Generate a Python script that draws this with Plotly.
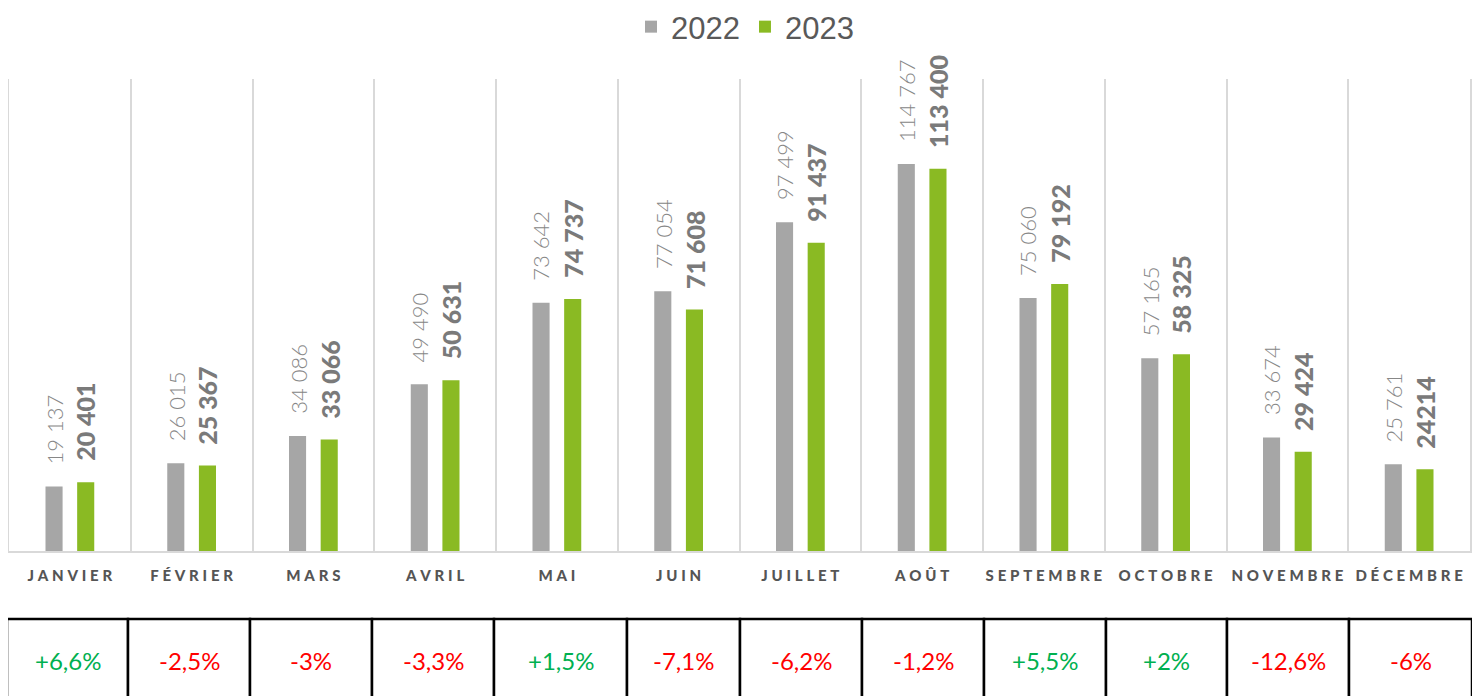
import plotly.graph_objects as go

months = ["JANVIER", "FÉVRIER", "MARS", "AVRIL", "MAI", "JUIN", "JUILLET",
          "AOÛT", "SEPTEMBRE", "OCTOBRE", "NOVEMBRE", "DÉCEMBRE"]
v2022 = [19137, 26015, 34086, 49490, 73642, 77054, 97499, 114767, 75060, 57165, 33674, 25761]
v2023 = [20401, 25367, 33066, 50631, 74737, 71608, 91437, 113400, 79192, 58325, 29424, 24214]
labels_2022 = ["19 137", "26 015", "34 086", "49 490", "73 642", "77 054", "97 499",
               "114 767", "75 060", "57 165", "33 674", "25 761"]
labels_2023 = ["20 401", "25 367", "33 066", "50 631", "74 737", "71 608", "91 437",
               "113 400", "79 192", "58 325", "29 424", "24214"]
pct = ["+6,6%", "-2,5%", "-3%", "-3,3%", "+1,5%", "-7,1%", "-6,2%", "-1,2%",
       "+5,5%", "+2%", "-12,6%", "-6%"]

GRAY = "#a6a6a6"
GREEN = "#8aba23"
OFF = 8                      # page body margin of the html page
W, H = 1480 - OFF, 696 - OFF
TOP = 79 - OFF
plot_h = H - TOP


def px(x):   # page x -> paper x
    return (x - OFF) / W


def py(y):   # page y -> paper y
    return (H - (y - OFF)) / plot_h


cats = ["\u2009\u200a\u200a".join(m) for m in months]

fig = go.Figure()
fig.add_trace(go.Bar(name="2022", x=cats, y=v2022, marker=dict(color=GRAY, line=dict(width=0))))
fig.add_trace(go.Bar(name="2023", x=cats, y=v2023, marker=dict(color=GREEN, line=dict(width=0))))

annotations = []
shift = 15.75
for c, a, b, la, lb in zip(cats, v2022, v2023, labels_2022, labels_2023):
    annotations.append(dict(x=c, y=a, text=la, textangle=-90, showarrow=False,
                            xanchor="center", yanchor="bottom", xshift=-shift, yshift=20,
                            font=dict(family="Lato", size=22, color="#878787", weight=300)))
    annotations.append(dict(x=c, y=b, text=lb, textangle=-90, showarrow=False,
                            xanchor="center", yanchor="bottom", xshift=shift, yshift=19,
                            font=dict(family="Lato", size=25, color="#7a7a7a", weight=900)))

# comparison table below the chart
pct_colors = ["#00b050" if p.startswith("+") else "#ff0000" for p in pct]
col_w = [121, 122, 122, 122, 133, 113, 122, 122, 122, 121, 122, 123]
shapes = []
left = 7
for p, col, w in zip(pct, pct_colors, col_w):
    shapes.append(dict(type="rect", xref="paper", yref="paper",
                       x0=px(left), x1=px(left + w), y0=py(720), y1=py(619),
                       line=dict(color="black", width=2.5), fillcolor="white", layer="below"))
    annotations.append(dict(xref="paper", yref="paper", x=px(left + w / 2), y=py(660),
                            text=p, showarrow=False, xanchor="center", yanchor="middle",
                            font=dict(family="Lato", size=24, color=col)))
    left += w

fig.update_layout(
    width=W, height=H,
    margin=dict(l=0, r=0, t=TOP, b=0, autoexpand=False),
    paper_bgcolor="white", plot_bgcolor="white",
    barmode="group", bargap=0.48, bargroupgap=0.46,
    showlegend=True,
    legend=dict(orientation="h", x=px(745), xanchor="center", y=py(27), yanchor="middle",
                font=dict(family="Liberation Sans", size=31, color="#595959"),
                tracegroupgap=0, bgcolor="rgba(0,0,0,0)"),
    xaxis=dict(domain=[px(9), px(1470)], type="category", tickson="boundaries",
               showgrid=True, gridcolor="#d9d9d9", gridwidth=2,
               showline=True, linecolor="#d9d9d9", linewidth=2, ticks="",
               ticklabelstandoff=10, automargin=False, tickangle=0,
               tickfont=dict(family="Lato", size=15, color="#555555", weight=900),
               fixedrange=True),
    yaxis=dict(domain=[py(551), 1], range=[0, 140000], showgrid=False,
               showticklabels=False, zeroline=False, showline=True, mirror=True,
               linecolor="#d9d9d9", linewidth=2, ticks="", automargin=False),
    annotations=annotations,
    shapes=shapes,
)

fig.write_html("out.html")
